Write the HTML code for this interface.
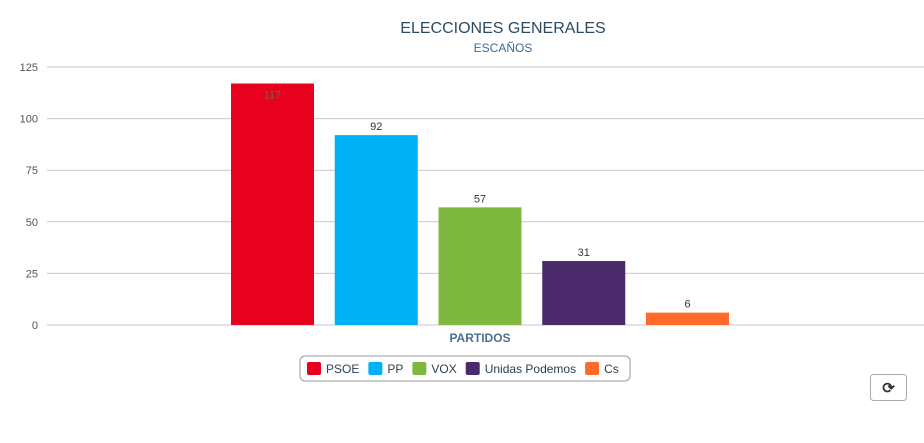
<!DOCTYPE html>
<html><head><meta charset="utf-8"><style>
body{margin:0;background:#fff;width:924px;height:438px;overflow:hidden;font-family:"Liberation Sans",sans-serif;}
svg text{font-family:"Liberation Sans",sans-serif;}
</style></head><body>
<svg id="chart" width="924" height="438" xmlns="http://www.w3.org/2000/svg">
<text x="503" y="33" text-anchor="middle" font-size="16" fill="#2d4a63">ELECCIONES GENERALES</text>
<text x="503" y="52" text-anchor="middle" font-size="12" fill="#3b6b96">ESCAÑOS</text>
<g id="grid"></g><g id="bars"></g>
<text x="480" y="342" text-anchor="middle" font-size="12" font-weight="bold" fill="#4d6f91">PARTIDOS</text>
<g id="legend">
<rect x="300" y="356" width="330" height="25" rx="5" fill="#fff" stroke="#999"/>
</g>
<g>
<rect x="870.5" y="374.5" width="36" height="26" rx="3" fill="#fff" stroke="#aaa"/>
<text x="888.5" y="393" text-anchor="middle" font-size="15" font-weight="bold" fill="#333">⟳</text>
</g>
</svg>
<script>
const categories=["PSOE","PP","VOX","Unidas Podemos","Cs"];
const seats=[117,92,57,31,6];
const colors=["#e8001f","#00b2f5","#7eb83e","#4a2a6a","#ff6a2a"];
const yTicks=[0,25,50,75,100,125];
const NS="http://www.w3.org/2000/svg";
function y(v){return 325-v*(258/125);}
function bx(i){return 231+i*103.75;}
function mk(t,a,p,txt){const e=document.createElementNS(NS,t);for(const k in a)e.setAttribute(k,a[k]);if(txt!=null)e.textContent=txt;p.appendChild(e);return e;}
const grid=document.getElementById('grid');
yTicks.forEach(t=>{
 const l=mk('line',{x1:47,x2:924,y1:y(t),y2:y(t),stroke:t===0?'#c0cad6':'#c8c8c8','stroke-width':1},grid);
 
 
 const tx=mk('text',{x:38,y:y(t)+4,'text-anchor':'end','font-size':11,fill:'#555'},grid,t);
 
 
});
const bars=document.getElementById('bars');
seats.forEach((v,i)=>{
 const r=mk('rect',{x:bx(i),y:y(v),width:83,height:325-y(v),fill:colors[i]},bars);
 
 
 const inside=y(v)<95;
 const t=mk('text',{x:bx(i)+41.5,y:inside?y(v)+15:y(v)-5,'text-anchor':'middle','font-size':11,fill:inside?'#666':'#333'},bars,v);
 
 
});
const lg=document.getElementById('legend');
let lx=307;
categories.forEach((c,i)=>{
 const g=mk('g',{},lg);
 
 
 mk('rect',{x:lx,y:362,width:14,height:13,rx:2,fill:colors[i]},g);
 const t=mk('text',{x:lx+19,y:373,'font-size':12,fill:'#2d3e50'},g,c);
 lx+=19+t.getComputedTextLength()+9;
});
</script>
</body></html>
